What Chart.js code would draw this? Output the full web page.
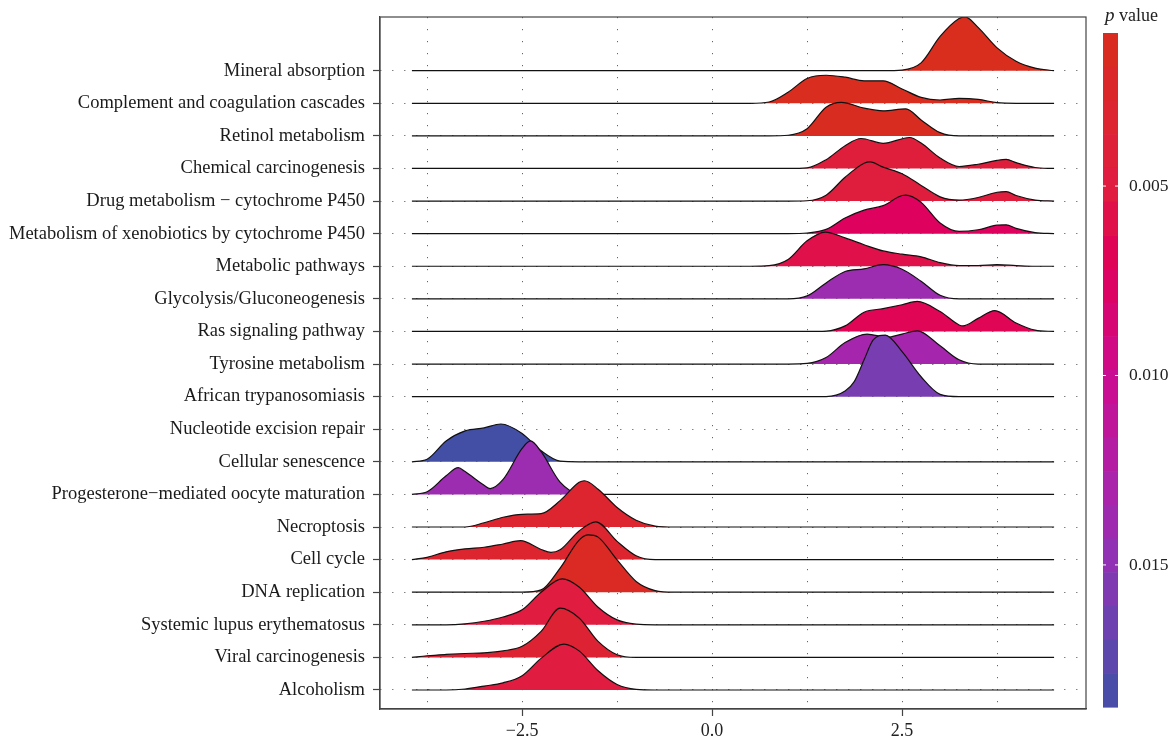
<!DOCTYPE html>
<html>
<head>
<meta charset="utf-8">
<title>Pathway ridgeline</title>
<script src="https://cdn.jsdelivr.net/npm/chart.js@4.4.1/dist/chart.umd.min.js"></script>
<style>
  html, body { margin: 0; padding: 0; background: #fff; }
  #wrap { width: 1172px; height: 742px; }
</style>
</head>
<body>
<div id="wrap"><canvas id="ridgeChart" width="1172" height="742"></canvas></div>
<script>
// pathways, top to bottom as shown on the y axis
const pathways = [
  "Mineral absorption",
  "Complement and coagulation cascades",
  "Retinol metabolism",
  "Chemical carcinogenesis",
  "Drug metabolism \u2212 cytochrome P450",
  "Metabolism of xenobiotics by cytochrome P450",
  "Metabolic pathways",
  "Glycolysis/Gluconeogenesis",
  "Ras signaling pathway",
  "Tyrosine metabolism",
  "African trypanosomiasis",
  "Nucleotide excision repair",
  "Cellular senescence",
  "Progesterone\u2212mediated oocyte maturation",
  "Necroptosis",
  "Cell cycle",
  "DNA replication",
  "Systemic lupus erythematosus",
  "Viral carcinogenesis",
  "Alcoholism"
]

// p value of each pathway (fill colour)
const pValues = [
  0.0010, 0.0011, 0.0012, 0.0045, 0.0047, 0.0072, 0.0058, 0.0140, 0.0066, 0.0133,
  0.0160, null, 0.0187, 0.0140, 0.0030, 0.0030, 0.0016, 0.0050, 0.0035, 0.0050
]

// density curves: [x, height in rows], same order as pathways
const densities = [
  [[-3.95, 0], [2.25, 0], [2.5, 0.02], [2.75, 0.24], [3.0, 1.05], [3.25, 1.6], [3.33, 1.65], [3.5, 1.33], [3.75, 0.7], [4.0, 0.29], [4.25, 0.08], [4.5, 0]],
  [[-3.95, 0], [0.5, 0], [0.75, 0.04], [1.0, 0.34], [1.25, 0.76], [1.5, 0.86], [1.75, 0.8], [2.0, 0.69], [2.25, 0.69], [2.5, 0.44], [2.75, 0.18], [3.0, 0.1], [3.25, 0.15], [3.5, 0.12], [3.75, 0.02], [4.0, 0], [4.5, 0]],
  [[-3.95, 0], [0.75, 0], [1.0, 0.02], [1.25, 0.22], [1.5, 0.88], [1.7, 1.03], [2.0, 0.85], [2.25, 0.77], [2.55, 0.83], [2.75, 0.49], [3.0, 0.1], [3.25, 0], [4.5, 0]],
  [[-3.95, 0], [1.0, 0], [1.25, 0.02], [1.5, 0.27], [1.75, 0.7], [1.96, 0.92], [2.25, 0.77], [2.6, 0.95], [2.75, 0.78], [3.0, 0.32], [3.25, 0.06], [3.5, 0.13], [3.75, 0.25], [3.87, 0.28], [4.0, 0.18], [4.25, 0.03], [4.5, 0]],
  [[-3.95, 0], [1.0, 0], [1.25, 0.01], [1.5, 0.18], [1.75, 0.73], [2.0, 1.16], [2.08, 1.2], [2.25, 1.04], [2.5, 0.84], [2.75, 0.48], [3.0, 0.13], [3.25, 0.03], [3.5, 0.11], [3.75, 0.27], [3.87, 0.29], [4.0, 0.17], [4.25, 0.03], [4.5, 0]],
  [[-3.95, 0], [1.0, 0], [1.25, 0.02], [1.5, 0.13], [1.75, 0.48], [2.0, 0.72], [2.25, 0.86], [2.5, 1.17], [2.55, 1.18], [2.75, 0.96], [3.0, 0.33], [3.25, 0.07], [3.5, 0.12], [3.75, 0.26], [3.87, 0.27], [4.0, 0.16], [4.25, 0.03], [4.5, 0]],
  [[-3.95, 0], [0.5, 0], [0.75, 0.02], [1.0, 0.21], [1.25, 0.78], [1.49, 1.05], [1.75, 0.87], [2.0, 0.66], [2.25, 0.47], [2.5, 0.37], [2.75, 0.29], [3.0, 0.11], [3.25, 0.02], [3.5, 0.02], [3.75, 0.05], [4.0, 0.02], [4.25, 0], [4.5, 0]],
  [[-3.95, 0], [1.0, 0], [1.25, 0.09], [1.5, 0.49], [1.75, 0.84], [2.0, 0.92], [2.25, 1.05], [2.5, 0.91], [2.75, 0.54], [3.0, 0.11], [3.25, 0], [4.5, 0]],
  [[-3.95, 0], [1.25, 0], [1.5, 0.01], [1.75, 0.17], [2.0, 0.59], [2.25, 0.7], [2.5, 0.82], [2.7, 0.92], [3.0, 0.61], [3.25, 0.2], [3.3, 0.17], [3.5, 0.4], [3.72, 0.64], [4.0, 0.26], [4.25, 0.04], [4.5, 0]],
  [[-3.95, 0], [1.0, 0], [1.25, 0.02], [1.5, 0.2], [1.75, 0.66], [2.04, 0.92], [2.3, 0.82], [2.5, 0.92], [2.7, 1.02], [3.0, 0.56], [3.25, 0.13], [3.5, 0], [4.5, 0]],
  [[-3.95, 0], [1.5, 0], [1.75, 0.17], [1.87, 0.46], [2.0, 1.13], [2.12, 1.74], [2.28, 1.89], [2.5, 1.38], [2.75, 0.61], [3.0, 0.07], [3.25, 0], [4.5, 0]],
  null,
  [[-3.95, 0], [-3.75, 0.08], [-3.5, 0.64], [-3.25, 0.95], [-3.0, 1.04], [-2.78, 1.16], [-2.5, 0.87], [-2.25, 0.34], [-2.0, 0.02], [-1.75, 0], [4.5, 0]],
  [[-3.95, 0], [-3.75, 0.08], [-3.5, 0.57], [-3.34, 0.82], [-3.25, 0.7], [-3.0, 0.28], [-2.92, 0.18], [-2.75, 0.46], [-2.5, 1.41], [-2.39, 1.64], [-2.25, 1.31], [-2.0, 0.38], [-1.75, 0.02], [-1.5, 0], [4.5, 0]],
  [[-3.95, 0], [-3.25, 0], [-3.0, 0.13], [-2.75, 0.3], [-2.5, 0.39], [-2.25, 0.41], [-2.0, 0.81], [-1.75, 1.37], [-1.68, 1.42], [-1.5, 1.16], [-1.25, 0.6], [-1.0, 0.21], [-0.75, 0.03], [-0.5, 0], [4.5, 0]],
  [[-3.95, 0], [-3.75, 0.07], [-3.5, 0.24], [-3.25, 0.33], [-3.0, 0.38], [-2.75, 0.48], [-2.52, 0.58], [-2.25, 0.31], [-2.12, 0.22], [-2.0, 0.3], [-1.75, 0.88], [-1.53, 1.16], [-1.25, 0.56], [-1.0, 0.12], [-0.75, 0], [4.5, 0]],
  [[-3.95, 0], [-2.5, 0], [-2.25, 0.07], [-2.0, 0.74], [-1.75, 1.6], [-1.63, 1.76], [-1.5, 1.69], [-1.25, 0.99], [-1.0, 0.33], [-0.75, 0.05], [-0.5, 0], [4.5, 0]],
  [[-3.95, 0], [-3.5, 0], [-3.25, 0.03], [-3.0, 0.11], [-2.75, 0.24], [-2.5, 0.46], [-2.25, 1.0], [-1.97, 1.41], [-1.75, 1.16], [-1.5, 0.54], [-1.25, 0.15], [-1.0, 0.02], [-0.75, 0], [4.5, 0]],
  [[-3.95, 0], [-3.75, 0.05], [-3.5, 0.09], [-3.25, 0.12], [-3.0, 0.14], [-2.75, 0.2], [-2.5, 0.34], [-2.25, 0.8], [-2.0, 1.51], [-1.75, 1.21], [-1.5, 0.49], [-1.25, 0.08], [-1.0, 0], [4.5, 0]],
  [[-3.95, 0], [-3.5, 0], [-3.25, 0.03], [-3.0, 0.12], [-2.75, 0.22], [-2.5, 0.44], [-2.25, 0.97], [-1.95, 1.41], [-1.75, 1.2], [-1.5, 0.59], [-1.25, 0.17], [-1.0, 0.02], [-0.75, 0], [4.5, 0]]
]

// x axis: dotted grid every 1.25, labels at -2.5 / 0 / 2.5
const xGrid = [-3.75, -2.5, -1.25, 0, 1.25, 2.5, 3.75]
const xLabelled = [-2.5, 0, 2.5]

// colour bar
const pLimits = [0.00096, 0.01875]
const pTicks = [0.005, 0.010, 0.015]

// colour ramp for the p value (red -> magenta -> purple -> blue)
const rampStops = [
  [0.0010, [217, 45, 30]],
  [0.0050, [224, 28, 64]],
  [0.0070, [224, 0, 90]],
  [0.0100, [204, 12, 144]],
  [0.0125, [176, 31, 168]],
  [0.0145, [149, 48, 179]],
  [0.0165, [110, 66, 176]],
  [0.0188, [64, 80, 165]]
]

const SERIF = "'Liberation Serif', 'DejaVu Serif', serif"

function pColour(p) {
  if (p <= rampStops[0][0]) return rgb(rampStops[0][1])
  for (let i = 1; i < rampStops.length; i++) {
    if (p <= rampStops[i][0]) {
      const [p0, c0] = rampStops[i - 1]
      const [p1, c1] = rampStops[i]
      const t = (p - p0) / (p1 - p0)
      return rgb(c0.map((v, k) => v + (c1[k] - v) * t))
    }
  }
  return rgb(rampStops[rampStops.length - 1][1])
}

function rgb(c) {
  return "rgb(" + c.map((v) => Math.round(v)).join(",") + ")"
}

function formatTick(v) {
  if (v === 0) return "0.0"
  return (v < 0 ? "\u2212" : "") + Math.abs(v).toFixed(1)
}

/**
 * Ridges: bottom row first so lower ridges are drawn over the upper ones
 */
function buildDatasets() {
  const n = pathways.length
  const datasets = []
  for (let i = n - 1; i >= 0; i--) {
    const pts = densities[i]
    if (!pts) continue
    const row = n - i
    datasets.push({
      label: pathways[i],
      data: pts.map(([x, h]) => ({ x: x, y: row + h })),
      fill: { value: row },
      backgroundColor: pColour(pValues[i]),
      borderColor: "#111",
      borderWidth: 1.2,
      pointRadius: 0,
      cubicInterpolationMode: "monotone",
    })
  }
  return datasets
}

// frame around the panel plus the p value colour bar
const framePlugin = {
  id: "frameAndBar",
  afterDraw(chart) {
    const ctx = chart.ctx
    const a = chart.chartArea
    ctx.save()
    ctx.strokeStyle = "#444"
    ctx.lineWidth = 1.2
    ctx.strokeRect(a.left, a.top, a.right - a.left, a.bottom - a.top)

    // colour bar
    const x0 = a.right + 17
    const w = 15
    const y0 = 33
    const y1 = 707
    const nBins = 20
    const binH = (y1 - y0) / nBins
    for (let b = 0; b < nBins; b++) {
      const p = pLimits[0] + (pLimits[1] - pLimits[0]) * (b + 0.5) / nBins
      ctx.fillStyle = pColour(p)
      ctx.fillRect(x0, y0 + b * binH, w, binH + 0.6)
    }
    ctx.font = "17.5px " + SERIF
    ctx.fillStyle = "#222"
    ctx.textBaseline = "middle"
    ctx.textAlign = "left"
    pTicks.forEach((p) => {
      const y = y0 + (p - pLimits[0]) / (pLimits[1] - pLimits[0]) * (y1 - y0)
      ctx.strokeStyle = "#fff"
      ctx.lineWidth = 1
      ctx.beginPath()
      ctx.moveTo(x0, y)
      ctx.lineTo(x0 + 3, y)
      ctx.moveTo(x0 + w - 3, y)
      ctx.lineTo(x0 + w, y)
      ctx.stroke()
      ctx.fillText(p.toFixed(3), x0 + w + 11, y)
    })

    // title "p value" with italic p
    ctx.textBaseline = "alphabetic"
    ctx.font = "italic 19px " + SERIF
    ctx.fillText("p", x0 + 2, 21)
    const pw = ctx.measureText("p").width
    ctx.font = "18px " + SERIF
    ctx.fillText(" value", x0 + 2 + pw, 21)
    ctx.restore()
  },
}

function initializeChart() {
  const canvas = document.getElementById("ridgeChart")
  const n = pathways.length

  new Chart(canvas, {
    type: "line",
    data: { datasets: buildDatasets() },
    options: {
      responsive: false,
      animation: false,
      devicePixelRatio: 1,
      events: [],
      layout: { padding: { top: 17, right: 86, bottom: 0, left: 0 } },
      plugins: {
        legend: { display: false },
        tooltip: { enabled: false },
      },
      scales: {
        x: {
          type: "linear",
          min: -4.37,
          max: 4.92,
          afterBuildTicks: (scale) => {
            scale.ticks = xGrid.map((v) => ({ value: v }))
          },
          afterFit: (scale) => {
            scale.height = 33
            scale.paddingLeft = 0
            scale.paddingRight = 0
          },
          ticks: {
            autoSkip: false,
            maxRotation: 0,
            padding: 4,
            color: "#222",
            font: { family: SERIF, size: 18 },
            callback: (v) => (xLabelled.includes(v) ? formatTick(v) : ""),
          },
          grid: {
            color: "#666",
            lineWidth: 1,
            tickLength: 7,
            tickColor: (c) => (c.tick && xLabelled.includes(c.tick.value) ? "#444" : "rgba(0,0,0,0)"),
            tickWidth: 1.2,
          },
          border: { display: true, color: "#444", width: 1.2, dash: [1.2, 10.8] },
        },
        y: {
          type: "linear",
          min: 0.417,
          max: 21.647,
          afterBuildTicks: (scale) => {
            scale.ticks = pathways.map((_, i) => ({ value: n - i }))
          },
          afterFit: (scale) => {
            scale.width = 380
            scale.paddingTop = 0
            scale.paddingBottom = 0
          },
          ticks: {
            autoSkip: false,
            padding: 8,
            color: "#1a1a1a",
            font: { family: SERIF, size: 18.5 },
            callback: (v) => pathways[n - v],
          },
          grid: {
            color: "#666",
            lineWidth: 1,
            tickLength: 7,
            tickColor: "#444",
            tickWidth: 1.2,
          },
          border: { display: true, color: "#444", width: 1.2, dash: [1.2, 10.8] },
        },
      },
    },
    plugins: [framePlugin],
  })
}

initializeChart()
</script>
</body>
</html>
